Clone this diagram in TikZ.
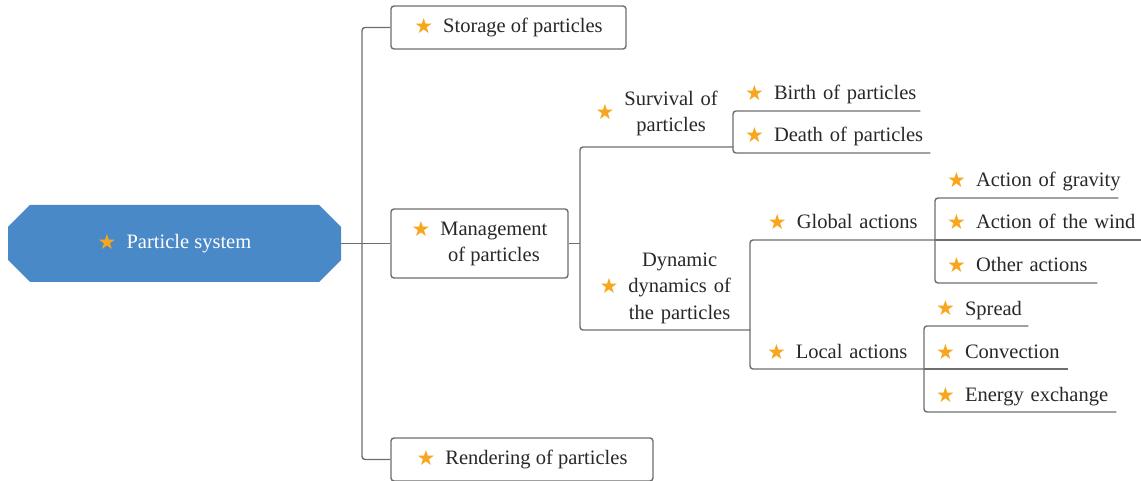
\documentclass[tikz,border=0pt]{standalone}
\usepackage{fontspec}
\setmainfont{Liberation Serif}
\newfontfamily\starfont{DejaVu Sans}
\usetikzlibrary{shapes.misc}
\definecolor{myblue}{RGB}{74,137,199}
\definecolor{mystar}{RGB}{247,166,30}
\definecolor{myline}{RGB}{110,110,110}
\definecolor{mytext}{RGB}{40,40,40}
\newcommand{\st}{\raisebox{-1pt}{\starfont\fontsize{21}{21}\selectfont\color{mystar}★}\hspace{10pt}}
\newcommand{\lbl}[1]{\mbox{\st#1\strut}}
\newcommand{\lines}[1]{\begin{tabular}{@{}c@{}}#1\end{tabular}}
\newcommand{\leafsep}{12pt}
\tikzset{
    common/.style={font=\fontsize{20.5}{26}\selectfont, text=mytext},
    branch/.style={draw=myline, line width=1.4pt, rounded corners=3pt},
    root/.style={common, chamfered rectangle, chamfered rectangle xsep=12pt, chamfered rectangle ysep=10pt,
        fill=myblue, text=white, minimum width=333pt, minimum height=77pt},
    topic/.style={common, draw=myline, line width=1.4pt, rounded corners=3pt, fill=white},
    sub/.style={common, anchor=south west, inner xsep=0pt, inner ysep=3pt, text width=#1, align=center},
    leaf/.style={common, anchor=south west, inner xsep=\leafsep, inner ysep=3pt, text width=#1-2*\leafsep, align=left}
}

\begin{document}
\begin{tikzpicture}[x=1pt, y=-1pt]
    \useasboundingbox (0,0) rectangle (1141,481);

    % main topic and first level
    \node[root] (root) at (174.5,243.5) {\lbl{Particle system}};
    \coordinate (trunk) at (362,243.5);
    \node[topic, minimum width=235pt, minimum height=43pt] (storage) at (508.5,27.5) {\lbl{Storage of particles}};
    \node[topic, minimum width=177pt, minimum height=69pt] (manage) at (479.5,243.5)
        {\st\begin{tabular}[t]{@{}c@{}}Management\\of particles\end{tabular}};
    \node[topic, minimum width=262pt, minimum height=43pt] (render) at (522,459.5) {\lbl{Rendering of particles}};

    % second level
    \node[sub=153pt, inner ysep=7pt] (survival) at (580,147) {\lbl{\lines{Survival of\\particles}}};
    \node[sub=170pt] (dynamic) at (580,330) {\lbl{\lines{Dynamic\\dynamics of\\the particles}}};

    % third level
    \node[leaf=187pt] (birth) at (733,111) {\lbl{Birth of particles}};
    \node[leaf=197pt] (death) at (733,153) {\lbl{Death of particles}};
    \node[sub=185pt] (global) at (750,240) {\lbl{Global actions}};
    \node[sub=174pt] (local) at (750,369) {\lbl{Local actions}};

    % fourth level
    \node[leaf=183pt] (gravity) at (935,198) {\lbl{Action of gravity}};
    \node[leaf=206pt] (wind) at (935,240) {\lbl{Action of the wind}};
    \node[leaf=162pt] (other) at (935,283) {\lbl{Other actions}};
    \node[leaf=104pt] (spread) at (924,326) {\lbl{Spread}};
    \node[leaf=144pt] (convection) at (924,369) {\lbl{Convection}};
    \node[leaf=192pt] (energy) at (924,412) {\lbl{Energy exchange}};

    % connectors
    \draw[branch] (root.east) -- (trunk) -- (manage.west);
    \draw[branch] (storage.west) -| (trunk) |- (render.west);
    \draw[branch] (manage.east) -- (manage.east -| survival.south west);
    \draw[branch] (survival.south east) -- (survival.south west) -- (dynamic.south west) -- (dynamic.south east);
    \draw[branch] (birth.south east) -- (birth.south west) -- (death.south west) -- (death.south east);
    \draw[branch] (global.south east) -- (global.south west) -- (local.south west) -- (local.south east);
    \draw[branch] (gravity.south east) -- (gravity.south west) -- (other.south west) -- (other.south east);
    \draw[branch] (wind.south west) -- (wind.south east);
    \draw[branch] (spread.south east) -- (spread.south west) -- (energy.south west) -- (energy.south east);
    \draw[branch] (convection.south west) -- (convection.south east);
\end{tikzpicture}
\end{document}
